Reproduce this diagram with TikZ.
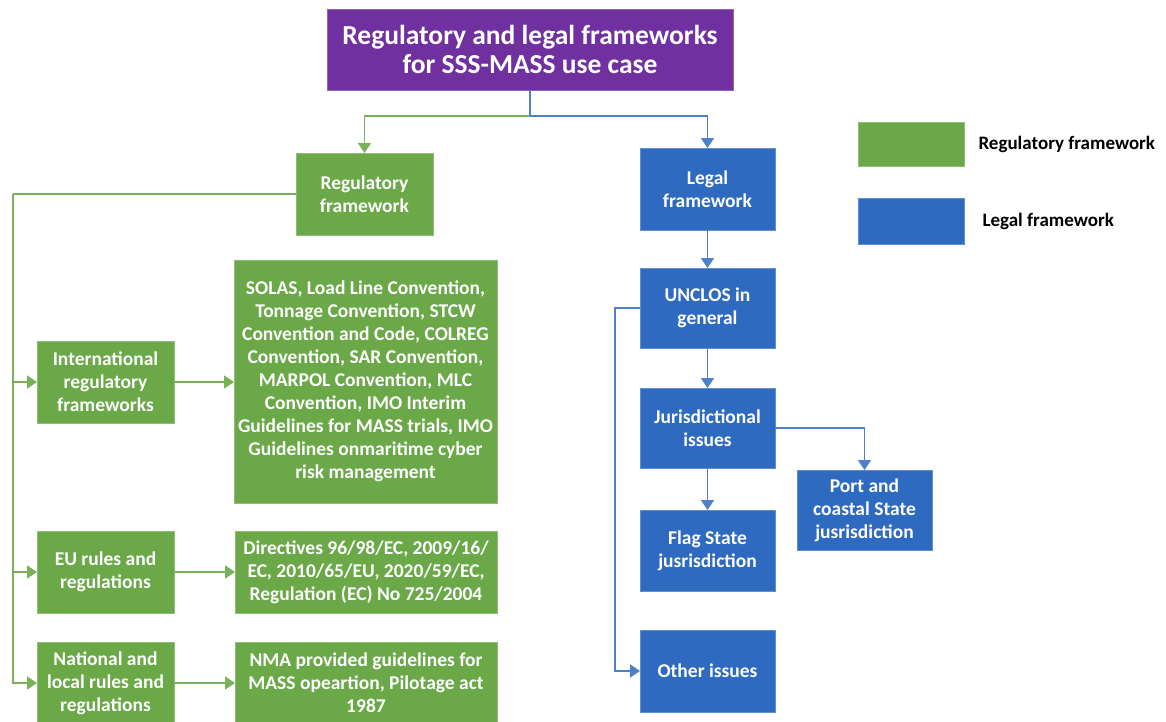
\documentclass[tikz,border=0pt]{standalone}
\usepackage{fontspec}
\setmainfont{Carlito}
\usetikzlibrary{arrows.meta}
\definecolor{grn}{RGB}{106,168,72}
\definecolor{blu}{RGB}{46,106,192}
\definecolor{pur}{RGB}{112,48,160}
\begin{document}
\begin{tikzpicture}[x=1pt,y=-1pt,
  box/.style={rectangle, inner sep=1pt, outer sep=0pt, align=center, text=white,
    font=\bfseries\fontsize{19.5}{23}\selectfont, line width=0.6pt},
  gbox/.style={box, fill=grn, draw=grn!75!white},
  bbox/.style={box, fill=blu, draw=blu!75!white},
  conn/.style={line width=1.8pt, -{Triangle[length=10pt,width=13pt]}},
  gl/.style={conn, draw=grn!90!white},
  bl/.style={conn, draw=blu!85!white},
  legtext/.style={anchor=west, font=\bfseries\fontsize{19}{22}\selectfont, text=black}
]
\useasboundingbox (0,0) rectangle (1166,721);
\clip (0,0) rectangle (1166,721);

% title
\node[box, fill=pur, draw=pur!75!white, minimum width=406, minimum height=81,
  font=\bfseries\fontsize{27.5}{29}\selectfont] (title) at (530,49.5)
  {Regulatory and legal frameworks\\for SSS-MASS use case};

% regulatory side
\node[gbox, minimum width=137, minimum height=82] (reg) at (364.5,194) {Regulatory\\framework};
\node[gbox, minimum width=137, minimum height=82] (intl) at (105.5,382) {International\\regulatory\\frameworks};
\node[gbox, minimum width=263, minimum height=243] (solas) at (365.5,381.5)
  {SOLAS, Load Line Convention,\\Tonnage Convention, STCW\\Convention and Code, COLREG\\Convention, SAR Convention,\\MARPOL Convention, MLC\\Convention, IMO Interim\\Guidelines for MASS trials, IMO\\Guidelines onmaritime cyber\\risk management};
\node[gbox, minimum width=137, minimum height=82] (eu) at (105.5,572) {EU rules and\\regulations};
\node[gbox, minimum width=262, minimum height=82] (dir) at (366,572)
  {Directives 96/98/EC, 2009/16/\\EC, 2010/65/EU, 2020/59/EC,\\Regulation (EC) No 725/2004};
\node[gbox, minimum width=137, minimum height=82] (nat) at (105.5,683) {National and\\local rules and\\regulations};
\node[gbox, minimum width=262, minimum height=82] (nma) at (366,683)
  {NMA provided guidelines for\\MASS opeartion, Pilotage act\\1987};

% legal side
\node[bbox, minimum width=135, minimum height=82] (legal) at (707.5,189) {Legal\\framework};
\node[bbox, minimum width=135, minimum height=80] (unclos) at (707.5,308) {UNCLOS in\\general};
\node[bbox, minimum width=135, minimum height=80] (jur) at (707.5,428) {Jurisdictional\\issues};
\node[bbox, minimum width=135, minimum height=81] (flag) at (707.5,550.5) {Flag State\\jusrisdiction};
\node[bbox, minimum width=135, minimum height=80] (port) at (864.5,510) {Port and\\coastal State\\jusrisdiction};
\node[bbox, minimum width=135, minimum height=82] (other) at (707.5,671) {Other issues};

% legend
\node[rectangle, fill=grn, draw=grn!75!white, line width=0.6pt, minimum width=106, minimum height=44] (lg) at (911,144) {};
\node[rectangle, fill=blu, draw=blu!75!white, line width=0.6pt, minimum width=106, minimum height=46] (lb) at (911,221) {};
\node[legtext] (lgt) at (975,144) {Regulatory framework};
\node[legtext] (lbt) at (979,221) {Legal framework};

% connectors from title
\coordinate (split) at (530,116);
\draw[line width=1.8pt, draw=blu!85!white] (title.south) -- (split);
\draw[bl] (split) -| (legal.north);
\draw[gl] (split) -| (reg.north);

% green trunk
\coordinate (gtop) at (13,194);
\draw[line width=1.8pt, draw=grn!90!white] (reg.west) -- (gtop);
\draw[gl] (gtop) |- (intl.west);
\draw[gl] (gtop) |- (eu.west);
\draw[gl] (gtop) |- (nat.west);
\draw[gl] (intl.east) -- (intl.east -| solas.west);
\draw[gl] (eu.east) -- (dir.west);
\draw[gl] (nat.east) -- (nma.west);

% blue
\draw[bl] (legal.south) -- (unclos.north);
\draw[bl] (unclos.south) -- (jur.north);
\draw[bl] (jur.south) -- (flag.north);
\draw[bl] (jur.east) -| (port.north);
\coordinate (bturn) at (615,308);
\draw[bl] (unclos.west) -- (bturn) |- (other.west);
\end{tikzpicture}
\end{document}
